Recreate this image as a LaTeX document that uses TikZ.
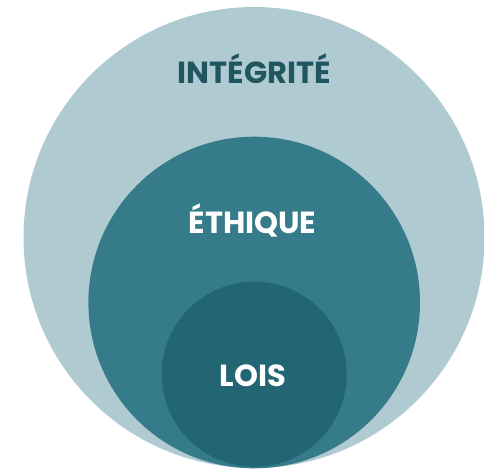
\documentclass[tikz,border=0pt]{standalone}
\usepackage{fontspec}
\setmainfont{Poppins}
\definecolor{outerc}{HTML}{B0CAD1}
\definecolor{midc}{HTML}{357B89}
\definecolor{innerc}{HTML}{226673}
\definecolor{darktext}{HTML}{1F5660}
\begin{document}
\begin{tikzpicture}[x=1pt,y=-1pt,
  ring/.style={circle,inner sep=0pt,draw=none},
  lbl/.style={anchor=base,font=\bfseries\fontsize{30.5}{30.5}\selectfont,inner sep=0pt}]
\useasboundingbox (0,0) rectangle (484,468);
\node[ring,fill=outerc,minimum size=461pt] (outer) at (254,237.5) {};
\node[ring,fill=midc,minimum size=331.6pt] (mid) at (254.2,302.5) {};
\node[ring,fill=innerc,minimum size=185pt] (inner) at (254.2,374.2) {};
\node[lbl,text=darktext] (t1) at (254.5,84) {INTÉGRITÉ};
\node[lbl,text=white] (t2) at (252.5,233) {ÉTHIQUE};
\node[lbl,text=white] (t3) at (253,386) {LOIS};
\end{tikzpicture}
\end{document}
